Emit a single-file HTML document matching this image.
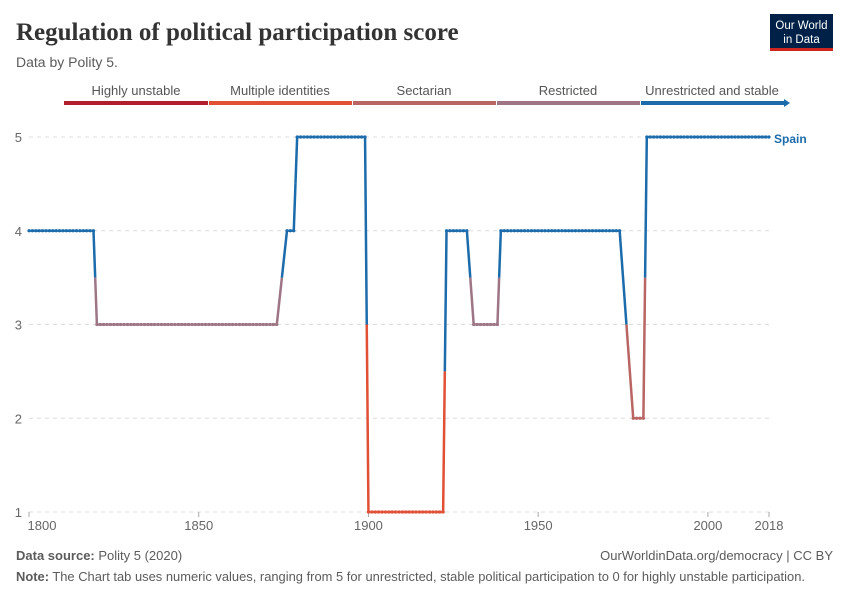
<!DOCTYPE html>
<html><head><meta charset="utf-8"><style>
body{margin:0;background:#fff;font-family:"Liberation Sans",sans-serif;}
svg text{font-family:"Liberation Sans",sans-serif;}
</style></head><body>
<svg id="chart" width="850" height="600" xmlns="http://www.w3.org/2000/svg">
<text x="16" y="40" font-size="25" font-weight="bold" fill="#333" style="font-family:'Liberation Serif',serif">Regulation of political participation score</text>
<text x="16" y="67" font-size="14" fill="#5b5b5b">Data by Polity 5.</text>
<g>
<rect x="770" y="14" width="63" height="34" fill="#002147"/>
<rect x="770" y="48" width="63" height="3" fill="#ce261e"/>
<text x="801.5" y="29" font-size="11.5" fill="#fff" text-anchor="middle">Our World</text>
<text x="801.5" y="43" font-size="11.5" fill="#fff" text-anchor="middle">in Data</text>
</g>
<g id="legend"></g>
<g id="grid"></g>
<g id="series"></g>
<text x="774" y="143" font-size="12" font-weight="bold" fill="#1c6bab">Spain</text>
<text x="16" y="560" font-size="13" fill="#5b5b5b"><tspan font-weight="bold">Data source:</tspan> Polity 5 (2020)</text>
<text x="833" y="560" font-size="13" fill="#5b5b5b" text-anchor="end">OurWorldinData.org/democracy | CC BY</text>
<text x="16" y="581" font-size="13" fill="#5b5b5b" textLength="789" lengthAdjust="spacingAndGlyphs"><tspan font-weight="bold">Note:</tspan> The Chart tab uses numeric values, ranging from 5 for unrestricted, stable political participation to 0 for highly unstable participation.</text>
</svg>
<script>
const legendLabels=["Highly unstable","Multiple identities","Sectarian","Restricted","Unrestricted and stable"];
const legendColors=["#b11f2e","#e14f35","#b86563","#9d7585","#1c6bab"];
const yTicks=[1,2,3,4,5];
const xTicks=[1800,1850,1900,1950,2000,2018];
const years=[1800,1801,1802,1803,1804,1805,1806,1807,1808,1809,1810,1811,1812,1813,1814,1815,1816,1817,1818,1819,
1820,1821,1822,1823,1824,1825,1826,1827,1828,1829,1830,1831,1832,1833,1834,1835,1836,1837,1838,1839,
1840,1841,1842,1843,1844,1845,1846,1847,1848,1849,1850,1851,1852,1853,1854,1855,1856,1857,1858,1859,
1860,1861,1862,1863,1864,1865,1866,1867,1868,1869,1870,1871,1872,1873,
1876,1877,1878,
1879,1880,1881,1882,1883,1884,1885,1886,1887,1888,1889,1890,1891,1892,1893,1894,1895,1896,1897,1898,1899,
1900,1901,1902,1903,1904,1905,1906,1907,1908,1909,1910,1911,1912,1913,1914,1915,1916,1917,1918,1919,1920,1921,1922,
1923,1924,1925,1926,1927,1928,1929,
1931,1932,1933,1934,1935,1936,1937,1938,
1939,1940,1941,1942,1943,1944,1945,1946,1947,1948,1949,1950,1951,1952,1953,1954,1955,1956,1957,1958,1959,1960,1961,1962,1963,1964,1965,1966,1967,1968,1969,1970,1971,1972,1973,1974,
1978,1979,1980,1981,
1982,1983,1984,1985,1986,1987,1988,1989,1990,1991,1992,1993,1994,1995,1996,1997,1998,1999,2000,2001,2002,2003,2004,2005,2006,2007,2008,2009,2010,2011,2012,2013,2014,2015,2016,2017,2018];
const values=[4,4,4,4,4,4,4,4,4,4,4,4,4,4,4,4,4,4,4,4,
3,3,3,3,3,3,3,3,3,3,3,3,3,3,3,3,3,3,3,3,
3,3,3,3,3,3,3,3,3,3,3,3,3,3,3,3,3,3,3,3,
3,3,3,3,3,3,3,3,3,3,3,3,3,3,
4,4,4,
5,5,5,5,5,5,5,5,5,5,5,5,5,5,5,5,5,5,5,5,5,
1,1,1,1,1,1,1,1,1,1,1,1,1,1,1,1,1,1,1,1,1,1,1,
4,4,4,4,4,4,4,
3,3,3,3,3,3,3,3,
4,4,4,4,4,4,4,4,4,4,4,4,4,4,4,4,4,4,4,4,4,4,4,4,4,4,4,4,4,4,4,4,4,4,4,4,
2,2,2,2,
5,5,5,5,5,5,5,5,5,5,5,5,5,5,5,5,5,5,5,5,5,5,5,5,5,5,5,5,5,5,5,5,5,5,5,5,5];
const NS="http://www.w3.org/2000/svg";
const X0=29,X1=769,Y1=512,Y5=137;
function xs(y){return X0+(y-1800)/(2018-1800)*(X1-X0);}
function ys(v){return Y1+(v-1)/(5-1)*(Y5-Y1);}
function col(v){return v>=4?legendColors[4]:legendColors[Math.max(0,Math.round(v))];}
function mk(tag,attrs,parent){const e=document.createElementNS(NS,tag);for(const k in attrs)e.setAttribute(k,attrs[k]);parent.appendChild(e);return e;}
const lg=document.getElementById('legend');
const segW=144,lx=64;
legendLabels.forEach((l,i)=>{
 const r=mk('rect',{x:lx+i*segW+(i?1:0),y:101,width:segW-(i?1:0),height:4,fill:legendColors[i]},lg);
 
 
 const t=mk('text',{x:lx+i*segW+segW/2,y:95,'font-size':13,fill:'#555','text-anchor':'middle'},lg);
 t.textContent=l;
 
 
});
const ar=mk('polygon',{points:`${lx+5*segW},99 ${lx+5*segW+6},103 ${lx+5*segW},107`,fill:legendColors[4]},lg);


const g=document.getElementById('grid');
yTicks.forEach(v=>{
 const l=mk('line',{x1:X0,x2:X1,y1:ys(v),y2:ys(v),stroke:'#ddd','stroke-dasharray':'4,4'},g);
 
 
 const t=mk('text',{x:22,y:ys(v)+5,'font-size':13,fill:'#666','text-anchor':'end'},g);
 t.textContent=v;
 
 
});
xTicks.forEach((yr,i)=>{
 const l=mk('line',{x1:xs(yr),x2:xs(yr),y1:Y1,y2:Y1+5,stroke:'#aaa'},g);
 
 
 const t=mk('text',{x:i==0?xs(yr)+13:xs(yr),y:Y1+18,'font-size':13,fill:'#666','text-anchor':'middle'},g);
 t.textContent=yr;
 
 
});
const s=document.getElementById('series');
for(let i=0;i<years.length-1;i++){
 const xa=xs(years[i]),ya=ys(values[i]),xb=xs(years[i+1]),yb=ys(values[i+1]);
 const xm=(xa+xb)/2,ym=(ya+yb)/2;
 const a=mk('line',{x1:xa,y1:ya,x2:xm,y2:ym,stroke:col(values[i]),'stroke-width':2.5},s);
 
 
 const b=mk('line',{x1:xm,y1:ym,x2:xb,y2:yb,stroke:col(values[i+1]),'stroke-width':2.5},s);
 
 
}
years.forEach((yr,i)=>{
 const c=mk('circle',{cx:xs(yr),cy:ys(values[i]),r:1.6,fill:col(values[i])},s);
 
 
});
</script>
</body></html>
